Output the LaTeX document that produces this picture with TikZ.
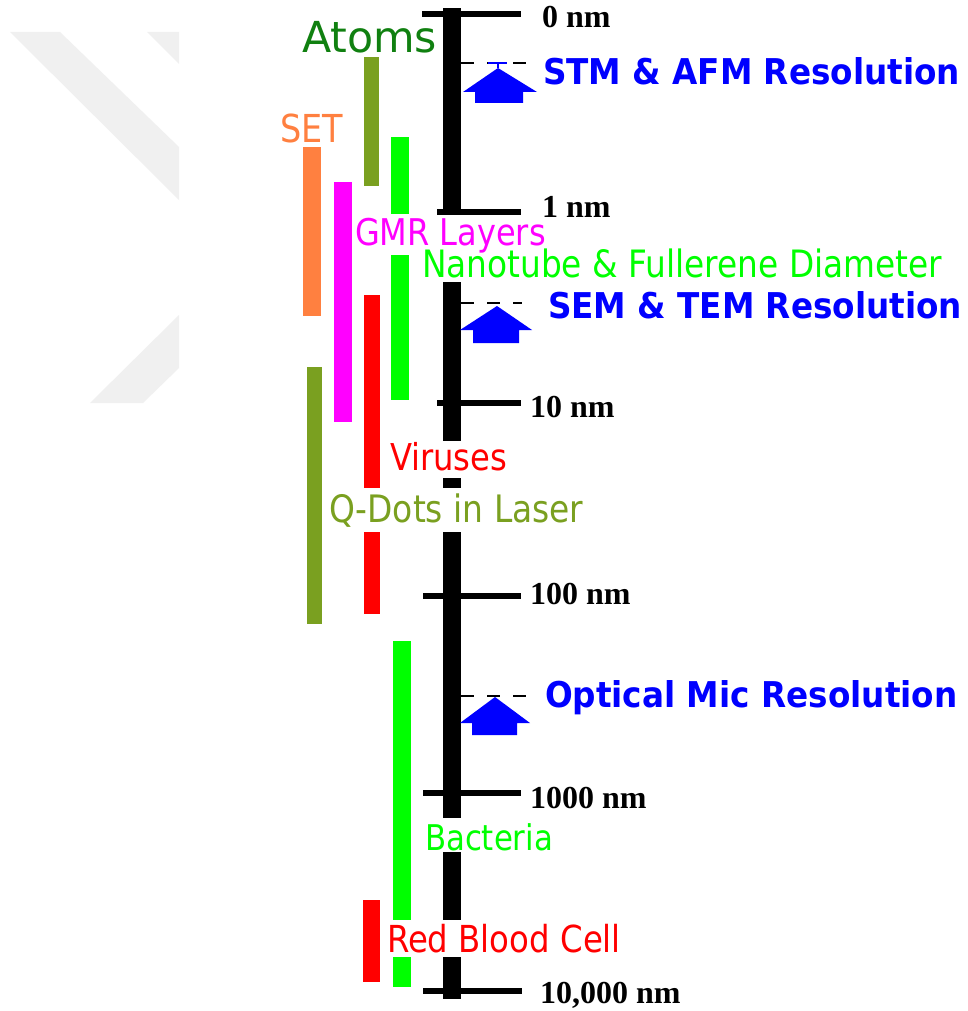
\documentclass[tikz,border=0pt]{standalone}
\usepackage{fontspec}
\newfontfamily\lblfont[FakeStretch=0.87]{DejaVu Sans}
\newfontfamily\atomfont{DejaVu Sans}
\newfontfamily\resfont[FakeStretch=0.92]{DejaVu Sans}
\newfontfamily\tickfont{Liberation Serif}
\definecolor{cset}{RGB}{255,128,64}
\definecolor{cgmr}{RGB}{255,0,255}
\definecolor{colive}{RGB}{122,160,32}
\definecolor{cgreen}{RGB}{0,255,0}
\definecolor{cred}{RGB}{255,0,0}
\definecolor{catom}{RGB}{16,128,16}
\definecolor{cblue}{RGB}{0,0,255}
\definecolor{wm}{RGB}{240,240,240}
\tikzset{
  lbl/.style={anchor=base west, inner sep=0pt, outer sep=0pt},
  ticklbl/.style={lbl, font={\tickfont\bfseries\fontsize{32}{34}\selectfont}},
  reslbl/.style={lbl, text=cblue, font={\resfont\bfseries\fontsize{35.5}{38}\selectfont}},
  ticktline/.style={line width=6pt},
  dashline/.style={line width=2pt, dash pattern=on 13pt off 13pt},
  housearrow/.style={fill=cblue, draw=none},
}
\begin{document}
\begin{tikzpicture}[x=1pt,y=-1pt]
\fill[white] (0,0) rectangle (968,1011);
\useasboundingbox (0,0) rectangle (968,1011);
% watermark
\fill[wm] (10,32) -- (60,32) -- (179,147) -- (179,200) -- cycle;
\fill[wm] (147,32) -- (179,32) -- (179,64) -- cycle;
\fill[wm] (179,315) -- (179,368) -- (143,403) -- (90,403) -- cycle;

% colored bars
\fill[colive] (364,57) rectangle (379,186);
\fill[cgreen] (391,137) rectangle (409,214);
\fill[cgreen] (391,255) rectangle (409,400);
\fill[cset] (303,147) rectangle (321,316);
\fill[cgmr] (334,182) rectangle (352,422);
\fill[cred] (364,295) rectangle (380,488);
\fill[cred] (364,532) rectangle (380,614);
\fill[colive] (307,367) rectangle (322,624);
\fill[cgreen] (393,641) rectangle (411,920);
\fill[cgreen] (393,957) rectangle (411,987);
\fill[cred] (363,900) rectangle (380,982);

% axis
\fill (443,8) rectangle (461,215);
\fill (443,282) rectangle (461,441);
\fill (443,478) rectangle (461,488);
\fill (443,532) rectangle (461,818);
\fill (443,852) rectangle (461,920);
\fill (443,957) rectangle (461,999);

% ticks
\coordinate (t0a) at (422,14);  \coordinate (t0b) at (521,14);
\coordinate (t1a) at (437,212); \coordinate (t1b) at (521,212);
\coordinate (t2a) at (437,403); \coordinate (t2b) at (521,403);
\coordinate (t3a) at (423,596); \coordinate (t3b) at (521,596);
\coordinate (t4a) at (423,793); \coordinate (t4b) at (521,793);
\coordinate (t5a) at (423,991); \coordinate (t5b) at (522,991);
\foreach \i in {0,...,5} \draw[ticktline] (t\i a) -- (t\i b);

\node[ticklbl] (l0) at (542,28) {0 nm};
\node[ticklbl] (l1) at (542,217) {1 nm};
\node[ticklbl] (l2) at (530,417) {10 nm};
\node[ticklbl] (l3) at (530,604) {100 nm};
\node[ticklbl] (l4) at (530,808) {1000 nm};
\node[ticklbl] (l5) at (540,1003) {10,000 nm};

% resolution markers
\coordinate (d1s) at (461,63);  \coordinate (d1e) at (537,63);
\coordinate (d2s) at (461,303); \coordinate (d2e) at (522,303);
\coordinate (d3s) at (461,696); \coordinate (d3e) at (528,696);
\draw[dashline] (d1s) -- (d1e);
\draw[dashline] (d2s) -- (d2e);
\draw[dashline] (d3s) -- (d3e);

\fill[housearrow] (463,92) -- (498,68) -- (537,92) -- (523,92) -- (523,103) -- (475,103) -- (475,92) -- cycle;
\draw[cblue, line width=2pt] (498,68) -- (498,63);
\draw[cblue, line width=2.5pt] (488,63) -- (507,63);
\fill[housearrow] (460,330) -- (497,306) -- (532,330) -- (519,330) -- (519,343) -- (473,343) -- (473,330) -- cycle;
\fill[housearrow] (460,723) -- (495,697) -- (530,723) -- (517,723) -- (517,735) -- (472,735) -- (472,723) -- cycle;

\node[reslbl] (stm) at (543,85) {STM \& AFM Resolution};
\node[reslbl] (sem) at (548,318) {SEM \& TEM Resolution};
\node[reslbl] (opt) at (545,707) {Optical Mic Resolution};

% labels
\node[lbl, text=catom, font={\atomfont\fontsize{42.7}{45}\selectfont}] (atoms) at (302,53) {Atoms};
\node[lbl, text=cset, font={\lblfont\fontsize{38.5}{40}\selectfont}] (set) at (280,143) {SET};
\node[lbl, text=cgmr, font={\lblfont\fontsize{36.8}{40}\selectfont}] (gmr) at (355,245) {GMR Layers};
\node[lbl, text=cgreen, font={\lblfont\fontsize{37.7}{40}\selectfont}] (nano) at (422,277) {Nanotube \& Fullerene Diameter};
\node[lbl, text=cred, font={\lblfont\fontsize{37}{40}\selectfont}] (vir) at (390,470) {Viruses};
\node[lbl, text=colive, font={\lblfont\fontsize{37.8}{40}\selectfont}] (qdot) at (329,522) {Q-Dots in Laser};
\node[lbl, text=cgreen, font={\lblfont\fontsize{35.4}{40}\selectfont}] (bact) at (425,850) {Bacteria};
\node[lbl, text=cred, font={\lblfont\fontsize{37.2}{40}\selectfont}] (rbc) at (387,952) {Red Blood Cell};
\end{tikzpicture}
\end{document}
